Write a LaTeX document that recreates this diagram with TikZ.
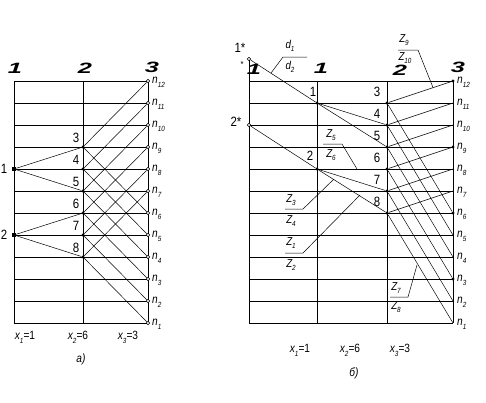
\documentclass[tikz,border=0pt]{standalone}
\usepackage{fontspec}
\usepackage{graphicx}
\setmainfont{Liberation Sans}[FakeStretch=0.85]
\newfontfamily\bigfont{Liberation Sans}[FakeStretch=1.7]
\newcommand\lo[1]{\raisebox{-0.6ex}{\fontsize{7.5}{7.5}\selectfont #1}}
\tikzset{
  gridln/.style={line width=0.9bp},
  ln/.style={line width=0.5bp},
  fpt/.style={circle, fill, inner sep=0pt, minimum size=3.4bp},
  bpt/.style={rectangle, fill, inner sep=0pt, minimum size=4.2bp},
  opt/.style={circle, draw, fill=white, inner sep=0pt, minimum size=3.4bp, line width=0.5bp},
  npt/.style={inner sep=0pt, minimum size=0pt},
  lbl/.style={font=\fontsize{13.5}{13.5}\selectfont, inner sep=0pt},
  rlbl/.style={font=\fontsize{12}{12}\selectfont\itshape, inner sep=0pt, anchor=west},
  hdr/.style={font=\bigfont\bfseries\itshape\fontsize{15}{15}\selectfont, inner sep=0pt},
  frac/.style={font=\fontsize{11.5}{11.5}\selectfont\itshape, inner sep=0pt},
  xl/.style={font=\fontsize{12}{12}\selectfont, inner sep=0pt}
}
\begin{document}
\begin{tikzpicture}[x=1bp,y=-1bp]
\useasboundingbox (0,0) rectangle (486,402);
% ================= a) =================
\foreach \k in {1,...,12} {
  \draw[gridln] (14,{81+22*(12-\k)}) -- (148,{81+22*(12-\k)});
}
\draw[gridln] (14,81) -- (14,323);
\draw[gridln] (83,81) -- (83,323);
\draw[gridln] (148,81) -- (148,323);
% header
\node[hdr] (ah1) at (15,68) {1};
\node[hdr] (ah2) at (85,68) {2};
\node[hdr] (ah3) at (152,67) {3};
% right column
\foreach \k in {1,...,12} {
  \node[opt] (aR\k) at (148,{81+22*(12-\k)}) {};
  \node[rlbl] (aRl\k) at (152,{82+22*(12-\k)}) {n\lo{\k}};
}
% points
\node[bpt] (a1) at (14,169) {};
\node[bpt] (a2) at (14,235) {};
\foreach \i/\y in {3/147,4/169,5/191,6/213,7/235,8/257} {
  \node[fpt] (a\i) at (83,\y) {};
  \node[lbl] (al\i) at (76,{\y-9}) {\i};
}
\node[lbl] (al1) at (4,169) {1};
\node[lbl] (al2) at (4,235) {2};
\foreach \j in {3,4,5} \draw[ln] (a1) -- (a\j);
\foreach \j in {6,7,8} \draw[ln] (a2) -- (a\j);
\foreach \i/\u/\d in {3/12/6,4/11/5,5/10/4,6/9/3,7/8/2,8/7/1} {
  \draw[ln] (a\i) -- (aR\u);
  \draw[ln] (a\i) -- (aR\d);
}
\node[xl] (ax1) at (25,337) {\itshape x\lo{1}\upshape =1};
\node[xl] (ax2) at (78,337) {\itshape x\lo{2}\upshape =6};
\node[xl] (ax3) at (128,337) {\itshape x\lo{3}\upshape =3};
\node[xl] (acap) at (81,359) {\itshape a)};
% ================= b) =================
\foreach \k in {1,...,12} {
  \draw[gridln] (249,{81+22*(12-\k)}) -- (453,{81+22*(12-\k)});
}
\draw[gridln] (249,59) -- (249,323);
\draw[gridln] (317,81) -- (317,323);
\draw[gridln] (387,81) -- (387,323);
\draw[gridln] (453,81) -- (453,323);
% headers
\node[hdr] (bh1a) at (254,69) {1};
\node[hdr] (bh1b) at (321,68) {1};
\node[hdr] (bh2) at (400,70) {2};
\node[hdr] (bh3) at (458,67) {3};
\node[lbl, font=\fontsize{9}{9}\selectfont] (bstar) at (242,64) {*};
% right column
\foreach \k in {1,2,4,5,7,8,10,11} {
  \node[npt] (bR\k) at (453,{81+22*(12-\k)}) {};
}
\foreach \k in {3,6,9,12} {
  \node[fpt] (bR\k) at (453,{81+22*(12-\k)}) {};
}
\foreach \k in {1,...,12} {
  \node[rlbl] (bRl\k) at (457,{82+22*(12-\k)}) {n\lo{\k}};
}
% points
\node[opt] (bs1) at (249,59) {};
\node[opt] (bs2) at (249,125) {};
\node[lbl] (bsl1) at (240,48) {1*};
\node[lbl] (bsl2) at (236,122) {2*};
\node[fpt] (b1) at (317,103) {};
\node[fpt] (b2) at (317,169) {};
\node[lbl] (bl1) at (313,92) {1};
\node[lbl] (bl2) at (310,156) {2};
\foreach \i/\y in {3/103,4/125,5/147,6/169,7/191,8/213} {
  \node[fpt] (b\i) at (387,\y) {};
  \node[lbl] (bl\i) at (377,{\y-11}) {\i};
}
\draw[ln] (bs1) -- (b1) -- (b5);
\draw[ln] (b1) -- (b4);
\draw[ln] (b1) -- (b3);
\draw[ln] (bs2) -- (b2) -- (b8);
\draw[ln] (b2) -- (b7);
\draw[ln] (b2) -- (b6);
\foreach \i/\u/\d in {3/12/6,4/11/5,5/10/4,6/9/3,7/8/2,8/7/1} {
  \draw[ln] (b\i) -- (bR\u);
  \draw[ln] (b\i) -- (bR\d);
}
% fraction labels with leaders
\coordinate (fd0) at (283,57);
\coordinate (fd1) at (307,57);
\coordinate (fdE) at (271,73);
\node[frac] (d1) at (290,46) {d\lo{1}};
\node[frac] (d2) at (290,67) {d\lo{2}};
\draw[ln] (fd1) -- (fd0) -- (fdE);

\coordinate (fz9a) at (398,50);
\coordinate (fz9b) at (418,50);
\coordinate (fz9E) at (433,87.5);
\node[frac] (z9) at (404,40) {Z\lo{9}};
\node[frac] (z10) at (405,58) {Z\lo{10}};
\draw[ln] (fz9a) -- (fz9b) -- (fz9E);

\coordinate (fz5a) at (323,144);
\coordinate (fz5b) at (342,144);
\coordinate (fz5E) at (357,169);
\node[frac] (z5) at (331,135) {Z\lo{5}};
\node[frac] (z6) at (331,155) {Z\lo{6}};
\draw[ln] (fz5a) -- (fz5b) -- (fz5E);

\coordinate (fz3a) at (285,209);
\coordinate (fz3b) at (303,209);
\coordinate (fz3E) at (334,179);
\node[frac] (z3) at (291,200) {Z\lo{3}};
\node[frac] (z4) at (291,221) {Z\lo{4}};
\draw[ln] (fz3a) -- (fz3b) -- (fz3E);

\coordinate (fz1a) at (285,253);
\coordinate (fz1b) at (303,253);
\coordinate (fz1E) at (360,195);
\node[frac] (z1) at (291,243) {Z\lo{1}};
\node[frac] (z2) at (291,265) {Z\lo{2}};
\draw[ln] (fz1a) -- (fz1b) -- (fz1E);

\coordinate (fz7a) at (390,297);
\coordinate (fz7b) at (408,297);
\coordinate (fz7E) at (417,265);
\node[frac] (z7) at (396,288) {Z\lo{7}};
\node[frac] (z8) at (396,307) {Z\lo{8}};
\draw[ln] (fz7a) -- (fz7b) -- (fz7E);

\node[xl] (bx1) at (300,350) {\itshape x\lo{1}\upshape =1};
\node[xl] (bx2) at (350,350) {\itshape x\lo{2}\upshape =6};
\node[xl] (bx3) at (400,350) {\itshape x\lo{3}\upshape =3};
\node[xl] (bcap) at (354,373) {\itshape б)};
\end{tikzpicture}
\end{document}
